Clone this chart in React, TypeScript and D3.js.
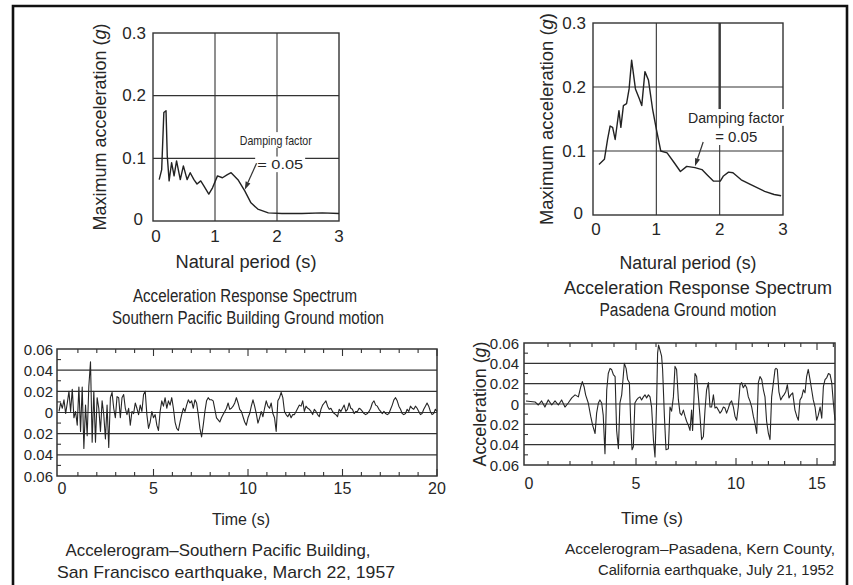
import React from "react";
import * as d3 from "d3";

const FONT = "'Liberation Sans', Arial, Helvetica, sans-serif";
const INK = "#262626";
const LINE = "#333333";

// ---------- Acceleration response spectra (period s, max acceleration g) ----------
const periodSP = [0.10, 0.14, 0.175, 0.21, 0.23, 0.26, 0.30, 0.34, 0.38, 0.44, 0.49, 0.55, 0.60, 0.66, 0.71, 0.77, 0.82, 0.90, 0.96, 1.04, 1.12, 1.20, 1.26, 1.37, 1.48, 1.58, 1.69, 1.86, 2.08, 2.40, 2.73, 3.0];
const accelSP = [0.066, 0.082, 0.173, 0.176, 0.104, 0.064, 0.093, 0.072, 0.096, 0.066, 0.088, 0.066, 0.077, 0.066, 0.059, 0.064, 0.056, 0.043, 0.053, 0.072, 0.069, 0.074, 0.077, 0.066, 0.048, 0.029, 0.019, 0.013, 0.012, 0.012, 0.013, 0.012];

const periodPA = [0.094, 0.18, 0.23, 0.27, 0.31, 0.35, 0.41, 0.44, 0.48, 0.53, 0.57, 0.61, 0.67, 0.73, 0.77, 0.82, 0.875, 0.94, 1.0, 1.07, 1.17, 1.28, 1.38, 1.48, 1.61, 1.72, 1.80, 1.90, 2.01, 2.06, 2.14, 2.21, 2.34, 2.5, 2.71, 2.86, 2.97];
const accelPA = [0.079, 0.087, 0.118, 0.139, 0.137, 0.118, 0.163, 0.137, 0.171, 0.174, 0.197, 0.242, 0.197, 0.182, 0.171, 0.224, 0.211, 0.166, 0.134, 0.100, 0.097, 0.082, 0.068, 0.076, 0.074, 0.071, 0.063, 0.053, 0.053, 0.061, 0.067, 0.066, 0.055, 0.047, 0.037, 0.032, 0.030];

const spectrumXTicks = [0, 1, 2, 3];
const spectrumYTicks = [0, 0.1, 0.2, 0.3];

// ---------- Accelerograms ----------
// Southern Pacific Building, evenly sampled over 0–20 s
const sfDuration = 20;
const sfAccel = [
  0.001, 0.009, 0.004, 0.012, -0.001, 0.009, 0.020, 0.001, 0.022, -0.005,
  0.001, -0.012, 0.024, -0.018, 0.024, -0.034, 0.007, -0.022, 0.025, 0.048,
  -0.028, 0.020, -0.028, 0.014, 0.004, -0.018, 0.011, -0.002, -0.025, 0.007,
  -0.033, 0.014, 0.019, 0.004, -0.005, 0.015, 0.014, -0.005, 0.014, 0.017,
  0.004, -0.002, 0.004, -0.012, 0.001, -0.001, 0.009, 0.004, -0.002, 0.007,
  0.001, 0.017, 0.020, -0.002, -0.015, -0.009, 0.001, -0.005, -0.002, -0.012,
  -0.017, 0.001, 0.011, 0.006, 0.014, 0.004, 0.011, 0.007, 0.014, 0.004,
  -0.009, -0.015, -0.017, -0.009, -0.002, 0.004, 0.001, 0.007, 0.012, 0.009,
  0.011, 0.004, 0.012, 0.009, -0.002, -0.015, -0.023, -0.012, 0.001, 0.011,
  0.014, 0.012, 0.012, 0.011, 0.003, -0.005, -0.007, -0.009, -0.005, -0.002,
  0.001, 0.004, 0.009, 0.003, 0.004, 0.006, 0.009, 0.014, 0.009, 0.003,
  0.001, -0.004, -0.009, -0.012, -0.005, -0.001, 0.006, 0.012, 0.006, -0.001,
  -0.010, -0.005, 0.001, -0.004, 0.004, 0.011, 0.006, 0.004, 0.009, -0.001,
  -0.005, -0.018, 0.011, 0.014, 0.019, 0.014, 0.001, -0.002, -0.004, -0.001,
  -0.005, -0.002, -0.002, 0.001, 0.004, 0.007, 0.006, 0.011, 0.001, 0.006,
  0.004, 0.003, 0.001, -0.002, 0.003, 0.001, -0.002, -0.004, 0.003, 0.007,
  0.009, 0.011, 0.006, 0.003, 0.004, 0.001, -0.001, -0.002, -0.004, 0.003,
  0.001, 0.004, 0.007, 0.001, 0.003, 0.009, 0.004, 0.003, -0.001, 0.001,
  0.001, 0.004, 0.003, 0.001, -0.001, -0.002, -0.001, 0.001, 0.004, 0.009,
  0.011, 0.007, 0.006, 0.003, 0.001, -0.001, 0.001, -0.001, -0.002, -0.001,
  0.003, 0.007, 0.012, 0.014, 0.011, 0.006, 0.003, -0.001, -0.002, -0.001,
  0.003, 0.001, 0.006, 0.004, 0.003, 0.006, 0.004, 0.001, -0.002, -0.001,
  0.003, 0.006, 0.009, 0.006, 0.001, -0.002, -0.001, 0.003, 0.001,
];

// Pasadena (Kern County) — time (s) and acceleration (g)
const paTime = [
  0.00, 0.41, 0.56, 0.71, 0.86, 1.01, 1.17, 1.32, 1.47, 1.62,
  1.77, 1.92, 2.08, 2.23, 2.38, 2.49, 2.56, 2.64, 2.71, 2.83,
  2.94, 3.03, 3.14, 3.21, 3.29, 3.36, 3.44, 3.51, 3.59, 3.67,
  3.74, 3.82, 3.89, 3.97, 4.05, 4.12, 4.20, 4.27, 4.35, 4.42,
  4.47, 4.55, 4.62, 4.70, 4.76, 4.82, 4.88, 4.95, 5.03, 5.12,
  5.20, 5.28, 5.37, 5.45, 5.53, 5.62, 5.70, 5.78, 5.87, 5.95,
  6.03, 6.08, 6.13, 6.20, 6.28, 6.33, 6.42, 6.50, 6.62, 6.70,
  6.78, 6.87, 6.95, 7.03, 7.12, 7.20, 7.28, 7.37, 7.45, 7.53,
  7.62, 7.70, 7.78, 7.83, 7.95, 8.03, 8.12, 8.20, 8.28, 8.37,
  8.45, 8.53, 8.62, 8.70, 8.78, 8.87, 8.95, 9.03, 9.12, 9.20,
  9.28, 9.37, 9.45, 9.53, 9.62, 9.70, 9.78, 9.87, 9.95, 10.04,
  10.14, 10.25, 10.35, 10.45, 10.56, 10.66, 10.76, 10.86, 10.97, 11.07,
  11.17, 11.28, 11.38, 11.48, 11.59, 11.69, 11.79, 11.89, 12.00, 12.10,
  12.20, 12.31, 12.41, 12.47, 12.55, 12.65, 12.76, 12.86, 12.96, 13.07,
  13.17, 13.27, 13.38, 13.50, 13.64, 13.75, 13.85, 13.95, 14.06, 14.16,
  14.26, 14.36, 14.46, 14.57, 14.67, 14.77, 14.88, 14.98, 15.08, 15.19,
  15.29, 15.39, 15.49, 15.60, 15.70, 15.80, 15.90, 16.00, 16.10,
];
const paAccel = [
  0.003, 0.002, -0.001, 0.003, -0.003, 0.004, -0.001, 0.003, -0.001, 0.004,
  -0.003, 0.001, 0.006, 0.009, 0.007, 0.017, 0.022, 0.017, 0.009, 0.001,
  -0.012, -0.021, -0.029, -0.009, 0.001, 0.004, 0.001, -0.011, -0.049, 0.014,
  0.030, 0.035, 0.034, 0.029, 0.027, -0.026, -0.044, 0.001, 0.009, 0.027,
  0.040, 0.035, 0.024, 0.021, -0.019, -0.045, -0.042, 0.001, 0.004, 0.006,
  0.007, 0.004, 0.007, 0.009, 0.006, 0.009, 0.007, -0.003, -0.035, -0.052,
  0.001, 0.050, 0.058, 0.053, 0.047, 0.034, -0.012, -0.045, -0.044, -0.003,
  -0.007, 0.007, 0.037, 0.034, 0.004, -0.009, -0.011, -0.006, -0.012, -0.017,
  -0.021, -0.026, -0.006, -0.026, 0.030, 0.027, 0.007, -0.012, -0.035, -0.032,
  -0.006, 0.014, 0.021, -0.003, -0.003, 0.009, -0.004, -0.003, -0.006, -0.009,
  -0.007, -0.003, -0.004, -0.009, -0.004, 0.001, 0.003, -0.003, -0.012, -0.016,
  -0.003, 0.019, 0.021, 0.016, 0.019, 0.016, 0.007, 0.003, -0.003, -0.012,
  -0.019, -0.029, 0.021, 0.027, 0.024, 0.014, 0.007, -0.017, -0.029, -0.035,
  0.007, 0.021, 0.034, 0.035, 0.034, 0.012, 0.004, 0.007, 0.009, 0.012,
  0.019, 0.006, 0.009, 0.011, -0.006, -0.012, -0.016, 0.004, 0.007, 0.014,
  0.011, 0.027, 0.034, 0.024, 0.014, 0.004, -0.003, -0.016, -0.011, -0.003,
  -0.014, 0.017, 0.024, 0.026, 0.030, 0.029, 0.021, 0.001, -0.016,
];

const accelYTicks = [-0.06, -0.04, -0.02, 0, 0.02, 0.04, 0.06];
const accelGrid = [-0.04, -0.02, 0, 0.02, 0.04];
const accelMinorY = [-0.05, -0.03, -0.01, 0.01, 0.03, 0.05];
const sfXTicks = [0, 5, 10, 15, 20];
const paXTicks = [0, 5, 10, 15];

const absFmt = (v: number) => (v === 0 ? "0" : Math.abs(v).toFixed(2));

type Sc = d3.ScaleLinear<number, number>;

function Frame({ x, y }: { x: Sc; y: Sc }) {
  const [x0, x1] = [x.range()[0], x.range()[x.range().length - 1]];
  const [y0, y1] = y.range();
  return (
    <rect x={x0} y={y1} width={x1 - x0} height={y0 - y1} fill="none" stroke={LINE} strokeWidth={1.4} />
  );
}

function Arrow({ x1, y1, x2, y2 }: { x1: number; y1: number; x2: number; y2: number }) {
  const ang = Math.atan2(y2 - y1, x2 - x1);
  const L = 8, W = 2.6;
  const bx = x2 - L * Math.cos(ang), by = y2 - L * Math.sin(ang);
  const px = -Math.sin(ang) * W, py = Math.cos(ang) * W;
  return (
    <g>
      <line x1={x1} y1={y1} x2={bx} y2={by} stroke={LINE} strokeWidth={1.2} />
      <polygon points={`${x2},${y2} ${bx + px},${by + py} ${bx - px},${by - py}`} fill={LINE} />
    </g>
  );
}

function SpectrumPanel(props: {
  x: Sc; y: Sc; T: number[]; A: number[];
  yLabelX: number; yLabelLen: number;
  xLabelY: number; xLabelLen: number; tickLabelY: number; yTickRight: number;
  ann: { tx: number; ta: number; ex: number; ea: number; a1: [number, number]; a2: [number, number]; fs: number; len1: number; len2: number };
  thickT2?: boolean;
}) {
  const { x, y, T, A, ann } = props;
  const line = d3.line<number>().x((_, i) => x(T[i])).y((d) => y(d)).curve(d3.curveLinear);
  const [x0, x1] = x.range();
  const [y0, y1] = y.range();
  const midX = (x0 + x1) / 2;
  const tx = x(ann.tx), ty = y(ann.ta), ex = x(ann.ex), ey = y(ann.ea);
  return (
    <g>
      {spectrumYTicks.filter((v) => v > 0 && v < 0.3).map((v) => (
        <line key={"h" + v} x1={x0} x2={x1} y1={y(v)} y2={y(v)} stroke={LINE} strokeWidth={1.1} />
      ))}
      {spectrumXTicks.filter((v) => v > 0 && v < 3).map((v) => (
        <line key={"v" + v} x1={x(v)} x2={x(v)} y1={y0} y2={y1} stroke={LINE} strokeWidth={1.1} />
      ))}
      {props.thickT2 && (
        <line x1={x(2)} x2={x(2)} y1={y1} y2={ty} stroke="#3a3a3a" strokeWidth={2.4} />
      )}
      <Frame x={x} y={y} />
      <path d={line(A) || ""} fill="none" stroke="#222" strokeWidth={1.4} strokeLinejoin="round" />
      {/* annotation */}
      <rect x={tx - 2} y={ty - ann.fs * 0.62} width={ann.len1 + 4} height={ann.fs * 1.2} fill="#fff" />
      <rect x={ex - 2} y={ey - ann.fs * 0.62} width={ann.len2 + 4} height={ann.fs * 1.2} fill="#fff" />
      <text x={tx} y={ty} fontSize={ann.fs} dominantBaseline="central" fill={INK}
        textLength={ann.len1} lengthAdjust="spacingAndGlyphs">Damping factor</text>
      <text x={ex} y={ey} fontSize={ann.fs} dominantBaseline="central" fill={INK}
        textLength={ann.len2} lengthAdjust="spacingAndGlyphs">= 0.05</text>
      <Arrow x1={x(ann.a1[0])} y1={y(ann.a1[1])} x2={x(ann.a2[0])} y2={y(ann.a2[1])} />
      {/* ticks */}
      {spectrumYTicks.map((v) => (
        <text key={"yl" + v} x={v === 0 ? props.yTickRight - 3 : props.yTickRight} y={y(v) - (v === 0 ? 2 : 0)}
          textAnchor="end" dominantBaseline="central" fontSize={17} fill={INK}>
          {v === 0 ? "0" : v.toFixed(1)}
        </text>
      ))}
      {spectrumXTicks.map((v) => (
        <text key={"xl" + v} x={x(v) + (v === 0 ? 3 : 0)} y={props.tickLabelY} textAnchor="middle"
          dominantBaseline="central" fontSize={17} fill={INK}>{v}</text>
      ))}
      <text transform={`translate(${props.yLabelX},${(y0 + y1) / 2}) rotate(-90)`} textAnchor="middle"
        dominantBaseline="central" fontSize={18} fill={INK} textLength={props.yLabelLen} lengthAdjust="spacingAndGlyphs">
        Maximum acceleration (<tspan fontStyle="italic">g</tspan>)
      </text>
      <text x={midX} y={props.xLabelY} textAnchor="middle" dominantBaseline="central" fontSize={18} fill={INK}
        textLength={props.xLabelLen} lengthAdjust="spacingAndGlyphs">
        Natural period (s)
      </text>
    </g>
  );
}

function AccelPanel(props: {
  x: Sc; y: Sc; T: number[]; A: number[]; xTicks: number[]; tMax: number;
  tickLabelY: number; yTickRight: number; yLabel?: { x: number; len: number };
}) {
  const { x, y, T, A } = props;
  const r = x.range();
  const x0 = r[0] - 2, x1 = r[r.length - 1];
  const [y0, y1] = y.range();
  const line = d3.line<number>().x((_, i) => x(T[i])).y((d) => y(d));
  const secs = d3.range(1, Math.floor(props.tMax) + 1).filter((s) => s < props.tMax + 0.01);
  return (
    <g>
      {accelGrid.map((v) => (
        <line key={"g" + v} x1={x0} x2={x1} y1={y(v)} y2={y(v)} stroke={LINE} strokeWidth={1.2} />
      ))}
      <rect x={x0} y={y1} width={x1 - x0} height={y0 - y1} fill="none" stroke={LINE} strokeWidth={1.5} />
      {secs.map((s) => {
        const len = s % 5 === 0 ? 7 : 4;
        return (
          <g key={"t" + s}>
            <line x1={x(s)} x2={x(s)} y1={y1} y2={y1 + len} stroke={LINE} strokeWidth={1.1} />
            <line x1={x(s)} x2={x(s)} y1={y0} y2={y0 - len} stroke={LINE} strokeWidth={1.1} />
          </g>
        );
      })}
      {accelMinorY.map((v) => (
        <line key={"m" + v} x1={x0} x2={x0 + 4} y1={y(v)} y2={y(v)} stroke={LINE} strokeWidth={1.1} />
      ))}
      <path d={line(A) || ""} fill="none" stroke="#262626" strokeWidth={1.1} strokeLinejoin="round" />
      {accelYTicks.map((v) => (
        <text key={"yl" + v} x={props.yTickRight} y={y(v)} textAnchor="end" dominantBaseline="central"
          fontSize={15} fill={INK}>{absFmt(v)}</text>
      ))}
      {props.xTicks.map((v) => (
        <text key={"xl" + v} x={x(v) + (v === 0 ? 3 : 0)} y={props.tickLabelY} textAnchor="middle"
          dominantBaseline="central" fontSize={16} fill={INK}>{v}</text>
      ))}
      {props.yLabel && (
        <text transform={`translate(${props.yLabel.x},${(y0 + y1) / 2}) rotate(-90)`} textAnchor="middle"
          dominantBaseline="central" fontSize={18} fill={INK} textLength={props.yLabel.len} lengthAdjust="spacingAndGlyphs">
          Acceleration (<tspan fontStyle="italic">g</tspan>)
        </text>
      )}
    </g>
  );
}

function Label({ x, y, len, size = 18, children }: { x: number; y: number; len?: number; size?: number; children: React.ReactNode }) {
  return (
    <text x={x} y={y} textAnchor="middle" dominantBaseline="central" fontSize={size} fill={INK}
      textLength={len} lengthAdjust={len ? "spacingAndGlyphs" : undefined}>{children}</text>
  );
}

export default function App() {
  const xSP = d3.scaleLinear().domain([0, 3]).range([153, 339]);
  const ySP = d3.scaleLinear().domain([0, 0.3]).range([221, 33]);
  const xPA = d3.scaleLinear().domain([0, 3]).range([593, 783]);
  const yPA = d3.scaleLinear().domain([0, 0.3]).range([215, 23]);

  const xSF = d3.scaleLinear().domain([0, sfDuration]).range([59, 437]);
  const ySF = d3.scaleLinear().domain([-0.06, 0.06]).range([476, 349]);
  const sfTime = sfAccel.map((_, i) => (i * sfDuration) / (sfAccel.length - 1));

  const xKC = d3.scaleLinear().domain([0, 5, 10, 15, 16.1]).range([526, 636, 736, 817, 835]);
  const yKC = d3.scaleLinear().domain([-0.06, 0.06]).range([465, 343]);

  return (
    <svg width={853} height={585} viewBox="0 0 853 585"
      style={{ position: "absolute", left: 0, top: 0, fontFamily: FONT }}>
      <rect x={0} y={0} width={853} height={585} fill="#fff" />

      <SpectrumPanel x={xSP} y={ySP} T={periodSP} A={accelSP}
        yLabelX={100} yLabelLen={207} xLabelY={262} xLabelLen={141} tickLabelY={236} yTickRight={146}
        ann={{ tx: 1.40, ta: 0.129, ex: 1.68, ea: 0.090, a1: [1.67, 0.092], a2: [1.48, 0.050], fs: 13, len1: 72, len2: 46 }} />
      <SpectrumPanel x={xPA} y={yPA} T={periodPA} A={accelPA}
        yLabelX={547} yLabelLen={212} xLabelY={263} xLabelLen={137} tickLabelY={229} yTickRight={586}
        ann={{ tx: 1.50, ta: 0.152, ex: 1.93, ea: 0.122, a1: [1.74, 0.114], a2: [1.61, 0.076], fs: 14, len1: 96, len2: 42 }}
        thickT2 />

      <Label x={245} y={296} len={224}>Acceleration Response Spectrum</Label>
      <Label x={248} y={318} len={272}>Southern Pacific Building Ground motion</Label>
      <Label x={698} y={288} size={17.5} len={268}>Acceleration Response Spectrum</Label>
      <Label x={688} y={310} len={177}>Pasadena Ground motion</Label>

      <AccelPanel x={xSF} y={ySF} T={sfTime} A={sfAccel} xTicks={sfXTicks} tMax={20}
        tickLabelY={488} yTickRight={53} />
      <AccelPanel x={xKC} y={yKC} T={paTime} A={paAccel} xTicks={paXTicks} tMax={16}
        tickLabelY={483} yTickRight={519} yLabel={{ x: 480, len: 125 }} />

      <Label x={241} y={519} size={16} len={58}>Time (s)</Label>
      <Label x={218} y={550} len={305} size={17}>Accelerogram–Southern Pacific Building,</Label>
      <Label x={226} y={572} len={338} size={17}>San Francisco earthquake, March 22, 1957</Label>
      <Label x={652} y={518} size={16} len={62}>Time (s)</Label>
      <Label x={700} y={548} len={270} size={15.3}>Accelerogram–Pasadena, Kern County,</Label>
      <Label x={716} y={570} len={236} size={14.7}>California earthquake, July 21, 1952</Label>

      {/* outer border */}
      <path d="M13,585 L13,6 L847,6 L847,585" fill="none" stroke="#111" strokeWidth={2.6} />
    </svg>
  );
}
